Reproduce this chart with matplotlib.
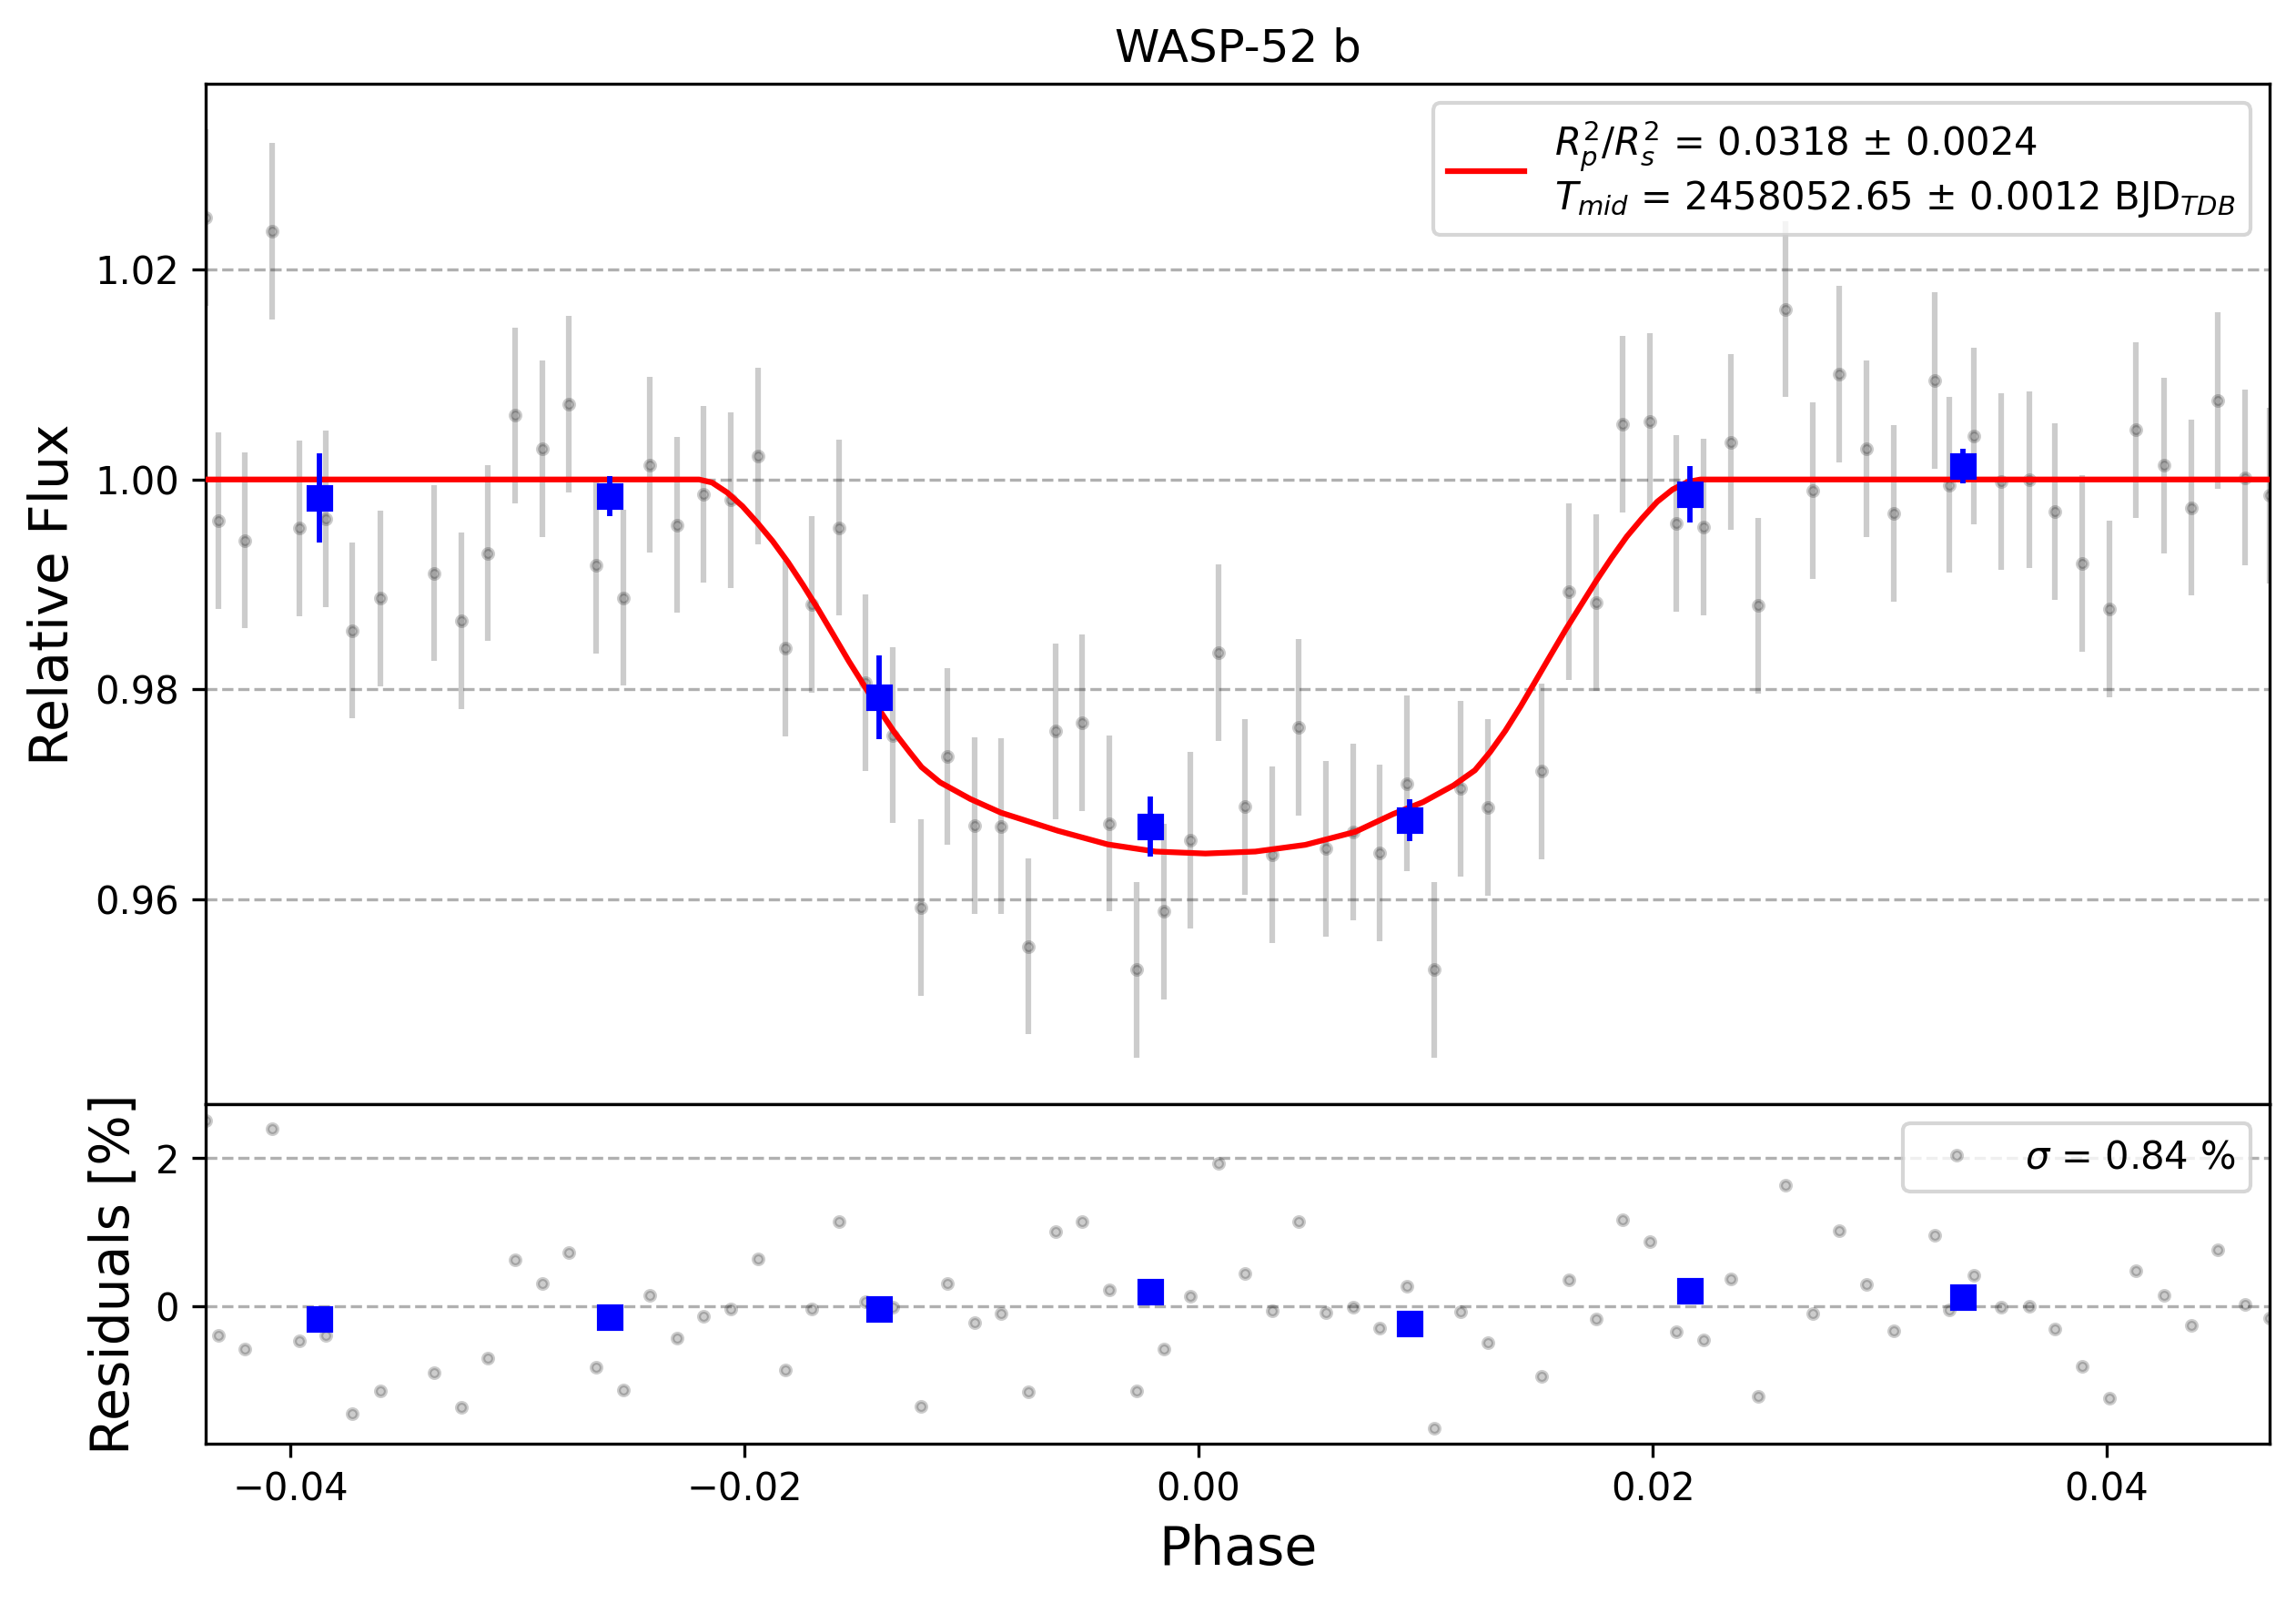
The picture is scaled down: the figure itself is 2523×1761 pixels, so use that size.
import matplotlib
matplotlib.use("Agg")
import matplotlib.pyplot as plt
import numpy as np

# ---- data ----
phase = [
    -0.04373, -0.04316, -0.04199, -0.04082, -0.03961, -0.03843, -0.03726, -0.03605,
    -0.03369, -0.03248, -0.03132, -0.03011, -0.02892, -0.02773, -0.02654, -0.02533,
    -0.02416, -0.02296, -0.02179, -0.02060, -0.01939, -0.01822, -0.01703, -0.01582,
    -0.01466, -0.01347, -0.01224, -0.01107, -0.00988, -0.00871, -0.00751, -0.00630,
    -0.00513, -0.00392, -0.00271, -0.00154, -0.00035, 0.00086, 0.00202, 0.00323,
    0.00442, 0.00559, 0.00680, 0.00796, 0.00917, 0.01036, 0.01155, 0.01274,
    0.01512, 0.01631, 0.01751, 0.01869, 0.01989, 0.02105, 0.02225, 0.02345,
    0.02463, 0.02584, 0.02704, 0.02820, 0.02940, 0.03060, 0.03242, 0.03305,
    0.03414, 0.03534, 0.03657, 0.03773, 0.03893, 0.04013, 0.04129, 0.04251,
    0.04371, 0.04487, 0.04607, 0.04717]

flux = [
    1.02497, 0.99605, 0.99420, 1.02369, 0.99535, 0.99624, 0.98561, 0.98866,
    0.99108, 0.98650, 0.99299, 1.00611, 1.00293, 1.00720, 0.99178, 0.98873,
    1.00140, 0.99567, 0.99860, 0.99803, 1.00223, 0.98389, 0.98809, 0.99541,
    0.98064, 0.97561, 0.95917, 0.97357, 0.96701, 0.96694, 0.95548, 0.97599,
    0.97682, 0.96720, 0.95325, 0.95879, 0.96561, 0.98350, 0.96879, 0.96420,
    0.97637, 0.96478, 0.96637, 0.96439, 0.97102, 0.95325, 0.97051, 0.96873,
    0.97217, 0.98930, 0.98828, 1.00529, 1.00554, 0.99580, 0.99548, 1.00357,
    0.98796, 1.01624, 0.99892, 1.01006, 1.00293, 0.99675, 1.00943, 0.99949,
    1.00414, 0.99981, 1.00000, 0.99694, 0.99197, 0.98764, 1.00471, 1.00134,
    0.99732, 1.00752, 1.00019, 0.99847]

flux_err = 0.0084

resid = [
    2.511, -0.389, -0.577, 2.393, -0.466, -0.384, -1.448, -1.141,
    -0.896, -1.362, -0.699, 0.630, 0.307, 0.724, -0.822, -1.129,
    0.147, -0.425, -0.135, -0.037, 0.638, -0.855, -0.037, 1.141,
    0.065, -0.012, -1.350, 0.307, -0.221, -0.094, -1.153, 1.006,
    1.141, 0.221, -1.141, -0.569, 0.135, 1.926, 0.442, -0.057,
    1.141, -0.086, -0.012, -0.294, 0.274, -1.640, -0.070, -0.491,
    -0.941, 0.356, -0.172, 1.166, 0.871, -0.344, -0.454, 0.368,
    -1.211, 1.632, -0.094, 1.018, 0.294, -0.331, 0.957, -0.041,
    0.417, -0.012, 0.000, -0.307, -0.810, -1.235, 0.483, 0.151,
    -0.254, 0.761, 0.029, -0.151]

bin_phase = [-0.03874, -0.02594, -0.01406, -0.00213, 0.00928, 0.02165, 0.03367]
bin_flux = [0.99822, 0.99841, 0.97924, 0.96694, 0.96752, 0.99860, 1.00127]
bin_err = [0.00425, 0.0019, 0.0040, 0.00287, 0.0020, 0.0027, 0.00166]
bin_resid = [-0.172, -0.147, -0.037, 0.196, -0.233, 0.209, 0.123]

model_phase = [-0.04373, -0.02200, -0.02143, -0.02076, -0.02009, -0.01943,
               -0.01876, -0.01808, -0.01742, -0.01675, -0.01608, -0.01541,
               -0.01474, -0.01407, -0.01340, -0.01273, -0.01220, -0.01139,
               -0.01005, -0.00871, -0.00620, -0.00400, -0.00190, 0.00030,
               0.00250, 0.00470, 0.00690, 0.00855, 0.00989, 0.01123, 0.01217,
               0.01284, 0.01351, 0.01418, 0.01485, 0.01551, 0.01618, 0.01685,
               0.01752, 0.01819, 0.01886, 0.01953, 0.02020, 0.02087, 0.02154,
               0.02210, 0.04717]
model_flux = [1.0, 1.0, 0.99971, 0.99875, 0.99745, 0.99586,
              0.99412, 0.99210, 0.98993, 0.98761, 0.98516, 0.98269,
              0.98038, 0.97806, 0.97589, 0.97401, 0.97257, 0.97112,
              0.96953, 0.96823, 0.96650, 0.96520, 0.96452, 0.96433,
              0.96452, 0.96516, 0.96640, 0.96808, 0.96924, 0.97083, 0.97227,
              0.97401, 0.97604, 0.97835, 0.98082, 0.98327, 0.98573, 0.98805,
              0.99036, 0.99253, 0.99456, 0.99629, 0.99788, 0.99904, 0.99977,
              1.0, 1.0]

title = "WASP-52 b"
model_label = ("$R_{p}^{2}/R_{s}^{2}$ = 0.0318 $\\pm$ 0.0024\n"
               "$T_{mid}$ = 2458052.65 $\\pm$ 0.0012 BJD$_{TDB}$")
sigma_label = "$\\sigma$ = 0.84 %"

# ---- figure ----
fig = plt.figure(figsize=(8.41, 5.87), dpi=300)
ax1 = fig.add_axes([0.0896, 0.3110, 0.8989, 0.6365])
ax2 = fig.add_axes([0.0896, 0.0994, 0.8989, 0.2116], sharex=ax1)

ax1.errorbar(phase, flux, yerr=flux_err, fmt='o', color='black', alpha=0.2,
             ms=2.6, mew=1.0, elinewidth=1.5, zorder=2)
ax1.plot(model_phase, model_flux, color='red', lw=1.5, label=model_label,
         zorder=3, solid_joinstyle='round')
ax1.errorbar(bin_phase, bin_flux, yerr=bin_err, fmt='s', color='blue',
             ms=6, mew=1.0, elinewidth=1.4, zorder=4)
ax1.set_title(title, fontsize=12)
ax1.set_ylabel("Relative Flux", fontsize=14)
ax1.set_ylim(0.9404, 1.0377)
ax1.grid(axis='y', linestyle='--')
ax1.tick_params(axis='x', bottom=False, labelbottom=False)
ax1.legend(loc='upper right', fontsize=10)

ax2.plot(phase, resid, 'o', color='black', alpha=0.2, ms=2.6, mew=1.0,
         label=sigma_label, zorder=2)
ax2.plot(bin_phase, bin_resid, 's', color='blue', ms=6, mew=1.0, zorder=4)
ax2.set_ylim(-1.849, 2.724)
ax2.set_yticks([0, 2])
ax2.grid(axis='y', linestyle='--')
ax2.set_ylabel("Residuals [%]", fontsize=14)
ax2.set_xlabel("Phase", fontsize=14)
ax2.legend(loc='upper right', fontsize=10)

ax2.set_xlim(min(phase), max(phase))

fig.savefig("out.png", dpi=300)
